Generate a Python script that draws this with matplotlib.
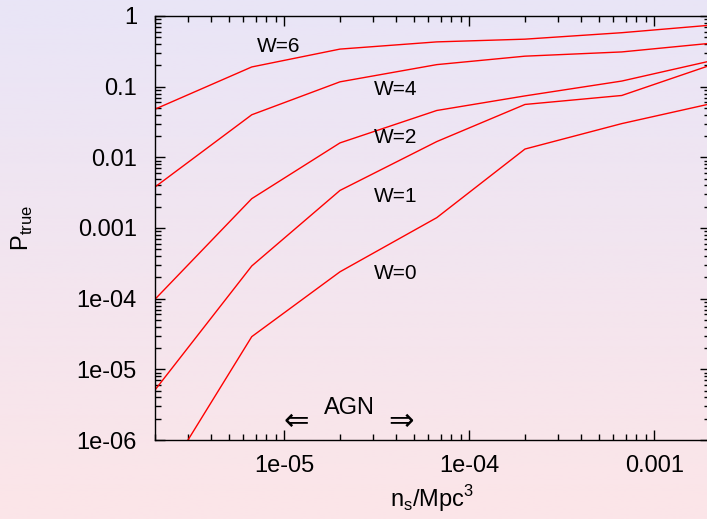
import matplotlib
matplotlib.use("Agg")
import matplotlib.pyplot as plt
import numpy as np

plt.rcParams["font.family"] = ["Liberation Sans", "DejaVu Sans"]

# source densities n_s / Mpc^3
n_s = [2e-6, 6.67e-6, 2e-5, 6.67e-5, 2e-4, 6.67e-4, 2e-3]

# P_true for each W threshold
p_w6 = [0.048, 0.19, 0.34, 0.43, 0.47, 0.58, 0.74]
p_w4 = [0.0038, 0.040, 0.117, 0.205, 0.27, 0.31, 0.41]
p_w2 = [9.8e-5, 0.0026, 0.016, 0.046, 0.074, 0.12, 0.23]
p_w1 = [5.1e-6, 2.9e-4, 0.0034, 0.0167, 0.056, 0.075, 0.20]
p_w0 = [1.75e-7, 2.9e-5, 2.4e-4, 1.4e-3, 0.0131, 0.030, 0.057]

curves = [p_w6, p_w4, p_w2, p_w1, p_w0]
labels = ["W=6", "W=4", "W=2", "W=1", "W=0"]
label_pos = [(9.3e-6, 0.37), (4.0e-5, 0.09), (4.0e-5, 0.0188), (4.0e-5, 0.00275), (4.0e-5, 2.3e-4)]

fig = plt.figure(figsize=(7.07, 5.19), dpi=100)

# background gradient, lavender at top to pink at bottom
bg = fig.add_axes([0, 0, 1, 1], zorder=-10)
top = np.array([233, 229, 247]) / 255.0
bottom = np.array([252, 229, 232]) / 255.0
t = np.linspace(0, 1, 256)[:, None]
grad = (top[None, :] * (1 - t) + bottom[None, :] * t)[:, None, :]
bg.imshow(grad, aspect="auto", extent=[0, 1, 0, 1])
bg.axis("off")

ax = fig.add_axes([0.2192, 0.1522, 0.7850, 0.8170])
ax.set_facecolor("none")

for p in curves:
    ax.plot(n_s, p, color="red", lw=1.0)

for lab, (x, y) in zip(labels, label_pos):
    ax.text(x, y, lab, fontsize=15, ha="center", va="center")

ax.text(2.25e-5, 2.84e-6, "AGN", fontsize=17, ha="center", va="center")
ax.text(1.16e-5, 1.86e-6, "\u21d0", fontsize=22, ha="center", va="center", family="DejaVu Sans")
ax.text(4.28e-5, 1.86e-6, "\u21d2", fontsize=22, ha="center", va="center", family="DejaVu Sans")

ax.set_xscale("log")
ax.set_yscale("log")
ax.set_xlim(2e-6, 2e-3)
ax.set_ylim(1e-6, 1)

ax.set_xticks([1e-5, 1e-4, 1e-3])
ax.set_xticklabels(["1e-05", "1e-04", "0.001"])
ax.set_yticks([1e-6, 1e-5, 1e-4, 1e-3, 1e-2, 1e-1, 1])
ax.set_yticklabels(["1e-06", "1e-05", "1e-04", "0.001", "0.01", "0.1", "1"])

ax.tick_params(which="both", direction="in", top=True, right=True, labelsize=17, width=1)
ax.tick_params(which="major", length=7)
ax.tick_params(axis="y", which="major", pad=13)
ax.tick_params(axis="x", which="major", pad=11)
ax.tick_params(which="minor", length=4)

for s in ax.spines.values():
    s.set_linewidth(1.0)

ax.set_xlabel("n$_\\mathregular{s}$/Mpc$^\\mathregular{3}$", fontsize=17, labelpad=4)
ax.set_ylabel("P$_\\mathregular{true}$", fontsize=17, labelpad=30)

fig.savefig("out.png", dpi=100)
